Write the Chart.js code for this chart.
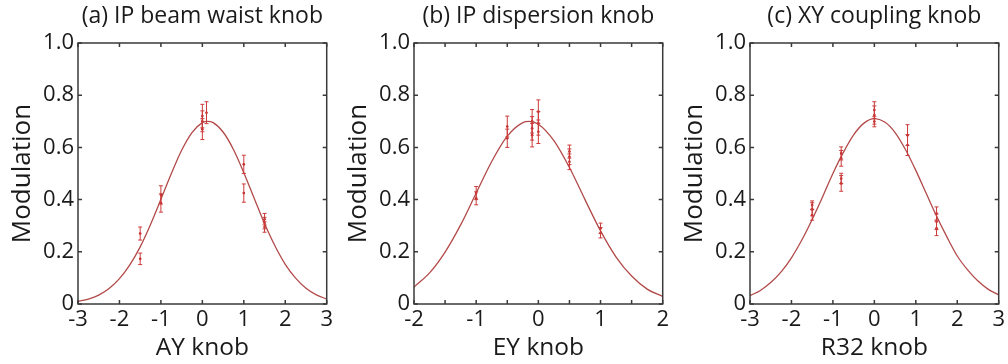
<!DOCTYPE html>
<html>
<head>
<meta charset="utf-8">
<script src="https://cdn.jsdelivr.net/npm/chart.js@4.4.1/dist/chart.umd.min.js"></script>
<style>
  html, body { margin: 0; padding: 0; background: #fff; }
  .row { display: flex; width: 1008px; height: 364px; }
  canvas { display: block; }
</style>
</head>
<body>
<div class="row">
  <canvas id="chartA" width="336" height="364"></canvas>
  <canvas id="chartB" width="336" height="364"></canvas>
  <canvas id="chartC" width="336" height="364"></canvas>
</div>
<script>
// (a) IP beam waist knob - measurements
const aX = [-1.5, -1.5, -1, -1, 0, 0, 0, 0.1, 1, 1, 1.5, 1.5, 1.5]
const aY = [0.27, 0.173, 0.418, 0.387, 0.72, 0.70, 0.67, 0.733, 0.535, 0.425, 0.325, 0.31, 0.295]
const aErr = [0.025, 0.022, 0.035, 0.035, 0.045, 0.04, 0.04, 0.042, 0.035, 0.035, 0.022, 0.022, 0.02]
// fitted curve
const aFitX = [-3, -2.75, -2.5, -2.25, -2, -1.75, -1.5, -1.25, -1, -0.75, -0.5, -0.25, 0, 0.125, 0.25, 0.5, 0.75, 1, 1.25, 1.5, 1.75, 2, 2.25, 2.5, 2.75, 3]
const aFitY = [0.010, 0.019, 0.034, 0.059, 0.097, 0.150, 0.219, 0.305, 0.401, 0.499, 0.589, 0.657, 0.695, 0.700, 0.696, 0.659, 0.592, 0.503, 0.405, 0.308, 0.223, 0.152, 0.099, 0.060, 0.035, 0.019]

// (b) IP dispersion knob
const bX = [-1, -1, -0.5, -0.5, -0.1, -0.1, -0.1, 0, 0, 0, 0.5, 0.5, 0.5, 1, 1]
const bY = [0.425, 0.405, 0.68, 0.635, 0.70, 0.673, 0.647, 0.737, 0.692, 0.66, 0.584, 0.564, 0.545, 0.29, 0.273]
const bErr = [0.025, 0.025, 0.04, 0.035, 0.045, 0.045, 0.045, 0.045, 0.045, 0.045, 0.025, 0.03, 0.03, 0.02, 0.02]
const bFitX = [-2, -1.75, -1.5, -1.25, -1, -0.75, -0.5, -0.25, -0.15, 0, 0.25, 0.5, 0.75, 1, 1.25, 1.5, 1.75, 2]
const bFitY = [0.065, 0.119, 0.199, 0.303, 0.425, 0.546, 0.643, 0.695, 0.700, 0.689, 0.626, 0.523, 0.40, 0.28, 0.18, 0.107, 0.057, 0.029]

// (c) XY coupling knob
const cX = [-1.5, -1.5, -1.5, -0.8, -0.8, -0.8, -0.8, 0, 0, 0, 0.8, 0.8, 1.5, 1.5, 1.5]
const cY = [0.379, 0.363, 0.341, 0.577, 0.558, 0.481, 0.462, 0.743, 0.724, 0.699, 0.647, 0.609, 0.347, 0.315, 0.29]
const cErr = [0.016, 0.025, 0.02, 0.025, 0.03, 0.02, 0.03, 0.032, 0.035, 0.02, 0.04, 0.04, 0.025, 0.03, 0.028]
const cFitX = [-3, -2.75, -2.5, -2.25, -2, -1.75, -1.5, -1.25, -1, -0.75, -0.5, -0.25, 0, 0.25, 0.5, 0.75, 1, 1.25, 1.5, 1.75, 2, 2.25, 2.5, 2.75, 3]
const cFitY = [0.032, 0.052, 0.082, 0.123, 0.177, 0.245, 0.324, 0.410, 0.500, 0.580, 0.648, 0.693, 0.710, 0.697, 0.657, 0.592, 0.512, 0.424, 0.337, 0.257, 0.184, 0.131, 0.088, 0.056, 0.035]

const yTicks = [0, 0.2, 0.4, 0.6, 0.8, 1.0]

const FONT = "'Open Sans', sans-serif"
const TEXT_COLOR = '#1a1a1a'
const AXIS_COLOR = '#3a3a3a'
const FIT_COLOR = '#b24a4a'
const BAR_COLOR = '#cc3a3a'

// error bars with little caps
const errorBars = {
  id: 'errorBars',
  afterDatasetsDraw(chart) {
    const { ctx, scales: { x, y } } = chart
    ctx.save()
    ctx.strokeStyle = BAR_COLOR
    ctx.lineWidth = 1
    chart.data.datasets.forEach(ds => {
      if (!ds.errors) return
      ds.data.forEach((p, i) => {
        const px = x.getPixelForValue(p.x)
        const top = y.getPixelForValue(p.y + ds.errors[i])
        const bot = y.getPixelForValue(p.y - ds.errors[i])
        ctx.beginPath()
        ctx.moveTo(px, top); ctx.lineTo(px, bot)
        ctx.moveTo(px - 2, top); ctx.lineTo(px + 2, top)
        ctx.moveTo(px - 2, bot); ctx.lineTo(px + 2, bot)
        ctx.stroke()
      })
    })
    ctx.restore()
  }
}

// box around the plot, ticks pointing inward on all four sides
const boxTicks = {
  id: 'boxTicks',
  afterDraw(chart) {
    const { ctx, chartArea: a, scales: { x, y } } = chart
    const len = 4
    ctx.save()
    ctx.strokeStyle = AXIS_COLOR
    ctx.lineWidth = 1.5
    ctx.strokeRect(a.left, a.top, a.right - a.left, a.bottom - a.top)
    ctx.beginPath()
    x.ticks.forEach(t => {
      const px = x.getPixelForValue(t.value)
      ctx.moveTo(px, a.bottom); ctx.lineTo(px, a.bottom - len)
      ctx.moveTo(px, a.top); ctx.lineTo(px, a.top + len)
    })
    y.ticks.forEach(t => {
      const py = y.getPixelForValue(t.value)
      ctx.moveTo(a.left, py); ctx.lineTo(a.left + len, py)
      ctx.moveTo(a.right, py); ctx.lineTo(a.right - len, py)
    })
    ctx.stroke()
    ctx.restore()
  }
}

function makeChart(id, title, xLabel, xMin, xMax, xStep, xs, ys, errs, fitX, fitY) {
  const ctx = document.getElementById(id).getContext('2d')
  return new Chart(ctx, {
    data: {
      datasets: [
        {
          type: 'line',
          data: fitX.map((v, i) => ({ x: v, y: fitY[i] })),
          borderColor: FIT_COLOR,
          borderWidth: 1.3,
          pointRadius: 0,
          cubicInterpolationMode: 'monotone',
          fill: false
        },
        {
          type: 'scatter',
          data: xs.map((v, i) => ({ x: v, y: ys[i] })),
          errors: errs,
          pointRadius: 1.3,
          pointBackgroundColor: '#c02020',
          pointBorderColor: '#c02020',
          pointBorderWidth: 0
        }
      ]
    },
    options: {
      responsive: false,
      animation: false,
      layout: { padding: { left: 0, right: 7, top: 0, bottom: 0 } },
      plugins: {
        legend: { display: false },
        tooltip: { enabled: false },
        title: {
          display: true,
          fullSize: false,
          text: title,
          color: TEXT_COLOR,
          font: { family: FONT, size: 23, weight: 'normal' },
          padding: { top: 3, bottom: 12.4 }
        }
      },
      scales: {
        x: {
          type: 'linear',
          min: xMin,
          max: xMax,
          grid: { display: false, drawTicks: false },
          border: { display: false },
          afterFit: s => { s.height = 60 },
          ticks: {
            stepSize: xStep,
            padding: 3,
            color: TEXT_COLOR,
            font: { family: FONT, size: 22 },
            callback: v => Number.isInteger(v) ? String(v) : ''
          },
          title: {
            display: true,
            text: xLabel,
            color: TEXT_COLOR,
            font: { family: FONT, size: 24.5 },
            padding: { top: 0, bottom: 1.4 }
          }
        },
        y: {
          min: 0,
          max: 1,
          grid: { display: false, drawTicks: false },
          border: { display: false },
          afterFit: s => { s.width = 78 },
          afterBuildTicks: s => { s.ticks = yTicks.map(v => ({ value: v })) },
          ticks: {
            padding: 4,
            color: TEXT_COLOR,
            font: { family: FONT, size: 22 },
            callback: v => v === 0 ? '0' : v.toFixed(1)
          },
          title: {
            display: true,
            text: 'Modulation',
            color: TEXT_COLOR,
            font: { family: FONT, size: 26 },
            padding: { top: 7, bottom: 0 }
          }
        }
      }
    },
    plugins: [errorBars, boxTicks]
  })
}

makeChart('chartA', '(a) IP beam waist knob', 'AY knob', -3, 3, 1, aX, aY, aErr, aFitX, aFitY)
makeChart('chartB', '(b) IP dispersion knob', 'EY knob', -2, 2, 0.5, bX, bY, bErr, bFitX, bFitY)
makeChart('chartC', '(c) XY coupling knob', 'R32 knob', -3, 3, 1, cX, cY, cErr, cFitX, cFitY)
</script>
</body>
</html>
